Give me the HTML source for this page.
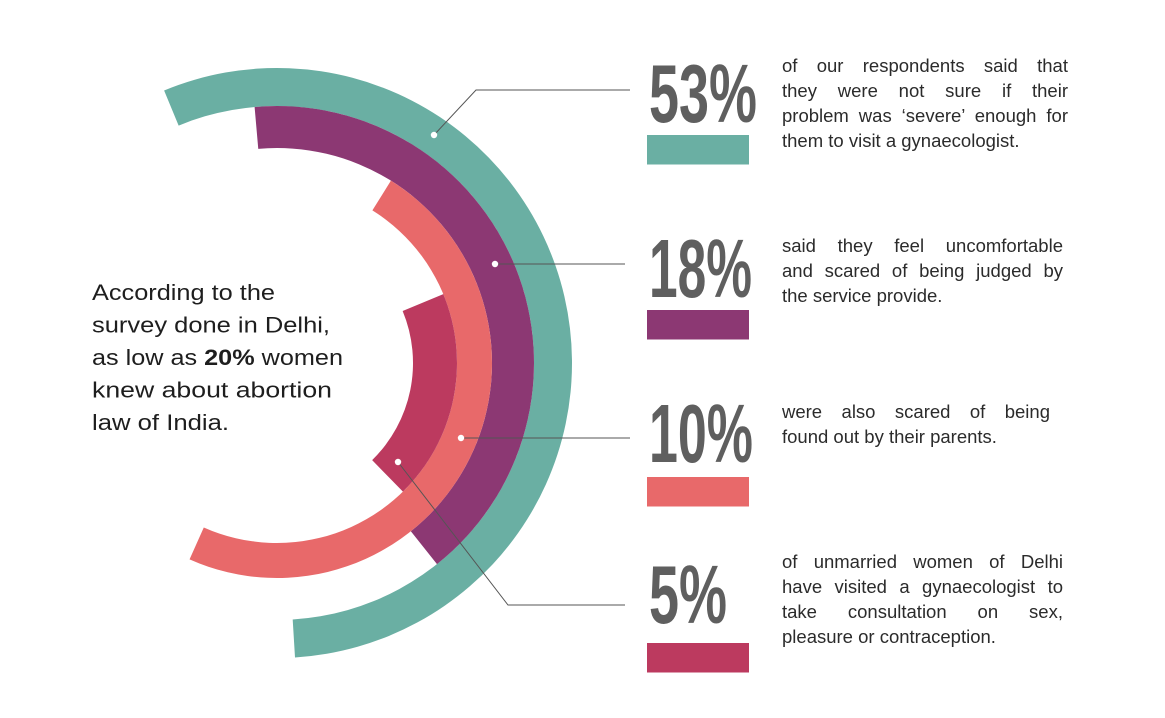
<!DOCTYPE html>
<html><head><meta charset="utf-8">
<style>
html,body{margin:0;padding:0;background:#fff;}
#wrap{position:relative;width:1165px;height:718px;overflow:hidden;background:#fff;}
svg{position:absolute;left:0;top:0;}
.ln{position:absolute;font-family:"Liberation Sans",sans-serif;font-size:18.5px;color:#2b2b2b;white-space:nowrap;line-height:20px;}
.j{text-align:justify;text-align-last:justify;white-space:normal;}
</style></head>
<body>
<div id="wrap">
<svg id="chart" width="1165" height="718" viewBox="0 0 1165 718"></svg>
</div>
<script>
const categories = ["unsure-severe", "fear-judged", "fear-parents", "visited-gynaecologist"];
const percentValues = [53, 18, 10, 5];
const percentLabels = ["53%", "18%", "10%", "5%"];
const arcStartDeg = [-112.5, -95, -58, -22.5];
const arcEndDeg = [86.5, 51.5, 114, 45.6];
const colors = ["#6aafa3", "#8c3873", "#e8696a", "#bc3a5f"];

const NS = "http://www.w3.org/2000/svg";
const svg = document.getElementById('chart');
const CX = 277, CY = 363;
const ringOuter = [295, 257, 215, 180];
const ringInner = [257, 215, 180, 136];
function ang(d){return d*Math.PI/180;}
function pt(r,d){return [CX+r*Math.cos(ang(d)), CY+r*Math.sin(ang(d))];}
function arcPath(ro,ri,a0,a1){
  const large = (a1-a0)>180?1:0;
  const p1=pt(ro,a0),p2=pt(ro,a1),p3=pt(ri,a1),p4=pt(ri,a0);
  return `M${p1[0]},${p1[1]} A${ro},${ro} 0 ${large} 1 ${p2[0]},${p2[1]} L${p3[0]},${p3[1]} A${ri},${ri} 0 ${large} 0 ${p4[0]},${p4[1]} Z`;
}
function mk(tag,attrs){const e=document.createElementNS(NS,tag);for(const k in attrs)e.setAttribute(k,attrs[k]);svg.appendChild(e);return e;}

for(let i=0;i<categories.length;i++){
  const p=mk('path',{d:arcPath(ringOuter[i],ringInner[i],arcStartDeg[i],arcEndDeg[i]),fill:colors[i]});
  
  
}
const dotPos = [[434,135],[495,264],[461,438],[398,462]];
const leaderPaths = [
  "M434,135 L476,90 L630,90",
  "M495,264 L625,264",
  "M461,438 L630,438",
  "M398,462 L508,605 L625,605"
];
for(let i=0;i<4;i++){
  const l=mk('path',{d:leaderPaths[i],fill:'none',stroke:'#555',"stroke-width":1});
  
  
  const c=mk('circle',{cx:dotPos[i][0],cy:dotPos[i][1],r:3.2,fill:'#fff'});
  
  
}
const numTop=[62,237,402,563];
const numWidth=[108,103,104,78];
const barTop=[135,310,477,643];
for(let i=0;i<4;i++){
  const t=mk('text',{x:649,y:numTop[i]+60,"font-family":"Liberation Sans Narrow, Liberation Sans, sans-serif","font-weight":"bold","font-size":83,fill:'#5f5f5f',textLength:numWidth[i],lengthAdjust:'spacingAndGlyphs'});
  t.textContent=percentLabels[i];
  
  
  const r=mk('rect',{x:647,y:barTop[i],width:102,height:29.5,fill:colors[i]});
  
  
}
const introLines=["According to the","survey done in Delhi,","as low as <tspan font-weight='bold'>20%</tspan> women","knew about abortion","law of India."];
const introW=[183,238,251,240,137];
introLines.forEach((s,i)=>{
  const t=mk('text',{x:92,y:300+i*32.5,"font-family":"Liberation Sans, sans-serif","font-size":22.5,fill:'#1e1e1e',textLength:introW[i],lengthAdjust:'spacingAndGlyphs'});
  t.innerHTML=s;
  
  
});
</script>
<div class="ln j" style="left:782px;top:56px;width:286px;">of our respondents said that</div>
<div class="ln j" style="left:782px;top:81px;width:286px;">they were not sure if their</div>
<div class="ln j" style="left:782px;top:106px;width:286px;">problem was ‘severe’ enough for</div>
<div class="ln" style="left:782px;top:131px;">them to visit a gynaecologist.</div>

<div class="ln j" style="left:782px;top:236px;width:281px;">said they feel uncomfortable</div>
<div class="ln j" style="left:782px;top:261px;width:281px;">and scared of being judged by</div>
<div class="ln" style="left:782px;top:286px;">the service provide.</div>

<div class="ln j" style="left:782px;top:402px;width:268px;">were also scared of being</div>
<div class="ln" style="left:782px;top:427px;">found out by their parents.</div>

<div class="ln j" style="left:782px;top:552px;width:281px;">of unmarried women of Delhi</div>
<div class="ln j" style="left:782px;top:577px;width:281px;">have visited a gynaecologist to</div>
<div class="ln j" style="left:782px;top:602px;width:281px;">take consultation on sex,</div>
<div class="ln" style="left:782px;top:627px;">pleasure or contraception.</div>
<script>
document.querySelectorAll('.ln').forEach(d=>document.getElementById('wrap').appendChild(d));
</script>
</body></html>
